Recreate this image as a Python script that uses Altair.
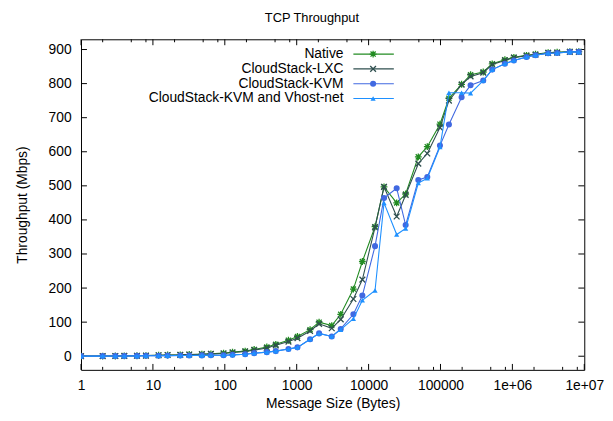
import altair as alt
import pandas as pd

# ---------------- data ----------------
sizes = [1, 2, 3, 4, 6, 8, 12, 16, 24, 32, 48, 64, 96, 128, 192, 256, 384, 512,
         768, 1024, 1536, 2048, 3072, 4096, 6144, 8192, 12288, 16384, 24576, 32768,
         49152, 65536, 98304, 131072, 196608, 262144, 393216, 524288, 786432,
         1048576, 1572864, 2097152, 3145728, 4194304, 6291456, 8388608]

native = [0.3, 0.5, 0.8, 1, 1.5, 2, 3, 3.5, 4, 5, 6, 7, 9, 12, 15, 20, 27, 35,
          47, 58, 78, 100, 90, 123, 197, 278, 380, 497, 450, 476,
          585, 615, 681, 757, 798, 826, 834, 858, 870,
          877, 883, 886, 891, 892, 894, 894]

lxc = [0.3, 0.5, 0.8, 1, 1.5, 2, 3, 3.5, 4, 5, 6, 7, 8, 11, 14, 18, 24, 32,
       43, 53, 74, 95, 82, 108, 168, 225, 378, 497, 410, 473,
       565, 595, 671, 750, 797, 821, 832, 856, 868,
       876, 882, 885, 890, 891, 893, 893]

kvm = [0.2, 0.4, 0.6, 0.8, 1, 1.2, 1.5, 1.8, 2, 2.2, 2.5, 2.8, 3, 4, 6, 9, 12, 15,
       21, 26, 50, 67, 58, 80, 123, 178, 323, 464, 493, 385,
       517, 526, 618, 680, 760, 795, 809, 841, 858,
       868, 878, 883, 889, 890, 893, 893]

vhost = [0.2, 0.4, 0.6, 0.8, 1, 1.2, 1.5, 1.8, 2, 2.2, 2.5, 2.8, 3, 4, 6, 9, 12, 15,
         21, 26, 50, 67, 58, 78, 110, 164, 193, 450, 357, 375,
         508, 522, 614, 773, 773, 772, 809, 841, 858,
         868, 878, 883, 889, 890, 893, 893]

series_names = ["Native", "CloudStack-LXC", "CloudStack-KVM",
                "CloudStack-KVM and Vhost-net"]
series_values = [native, lxc, kvm, vhost]
series_colors = ["#228b22", "#2f4f4f", "#4169e1", "#1e90ff"]

x_major_ticks = [1, 10, 100, 1000, 10000, 100000, 1000000, 10000000]
x_minor_ticks = [2, 5, 8, 20, 50, 80, 200, 500, 800, 2000, 5000, 8000,
                 20000, 50000, 80000, 200000, 500000, 800000,
                 2000000, 5000000, 8000000]
y_major_ticks = [0, 100, 200, 300, 400, 500, 600, 700, 800, 900]

# ---------------- styling ----------------
W, H = 510, 335
FONT = "Liberation Sans"
ASTERISK = "M-1,0L1,0M0,-1L0,1M-0.75,-0.75L0.75,0.75M-0.75,0.75L0.75,-0.75"
XMARK = "M-1,-1L1,1M-1,1L1,-1"
marker_defs = [
    dict(shape=ASTERISK, filled=False, size=48, strokeWidth=1.3),
    dict(shape=XMARK, filled=False, size=34, strokeWidth=1.3),
    dict(shape="circle", filled=True, size=38, strokeWidth=0),
    dict(shape="triangle-up", filled=True, size=28, strokeWidth=0),
]

xscale = alt.Scale(type="log", domain=[1, 10000000], nice=False)
yscale = alt.Scale(domain=[-40, 930], nice=False, zero=False)

xaxis = alt.Axis(values=x_major_ticks, grid=False, ticks=False, domain=False,
                 labelExpr="datum.value >= 1000000 ? '1e+0' + round(log(datum.value)/LN10) : format(datum.value, 'd')",
                 labelPadding=9, titlePadding=4, labelFlush=False)
yaxis = alt.Axis(values=y_major_ticks, grid=False, ticks=False, domain=False,
                 labelPadding=10, titlePadding=19)

X = alt.X("x:Q", scale=xscale, axis=xaxis, title="Message Size (Bytes)")
Y = alt.Y("y:Q", scale=yscale, axis=yaxis, title="Throughput (Mbps)")

layers = []

# tick marks (inward, mirrored)
xt_major = pd.DataFrame({"x": x_major_ticks})
xt_minor = pd.DataFrame({"x": x_minor_ticks})
yt_major = pd.DataFrame({"y": y_major_ticks})
for df_t, L in [(xt_major, 6), (xt_minor, 3)]:
    layers.append(alt.Chart(df_t).mark_rule(color="black", strokeWidth=1).encode(
        x=X, y=alt.value(H), y2=alt.value(H - L)))
    layers.append(alt.Chart(df_t).mark_rule(color="black", strokeWidth=1).encode(
        x=X, y=alt.value(0), y2=alt.value(L)))
layers.append(alt.Chart(yt_major).mark_rule(color="black", strokeWidth=1).encode(
    y=Y, x=alt.value(0), x2=alt.value(6)))
layers.append(alt.Chart(yt_major).mark_rule(color="black", strokeWidth=1).encode(
    y=Y, x=alt.value(W), x2=alt.value(W - 6)))

# data series
for name, vals, col, mk in zip(series_names, series_values, series_colors, marker_defs):
    df = pd.DataFrame({"x": sizes, "y": vals})
    base = alt.Chart(df)
    layers.append(base.mark_line(color=col, strokeWidth=1.1, clip=True).encode(x=X, y=Y))
    layers.append(base.mark_point(color=col, opacity=1, clip=True, **mk).encode(x=X, y=Y))

# legend (gnuplot style: text right-aligned, then line sample with marker)
for i, (name, col, mk) in enumerate(zip(series_names, series_colors, marker_defs)):
    ly = 15 + 15 * i
    ldf = pd.DataFrame({"name": [name]})
    lb = alt.Chart(ldf)
    layers.append(lb.mark_text(align="right", baseline="middle", font=FONT,
                               fontSize=14, color="black").encode(
        text="name:N", x=alt.value(266), y=alt.value(ly)))
    layers.append(lb.mark_rule(color=col, strokeWidth=1.1).encode(
        x=alt.value(276), x2=alt.value(317), y=alt.value(ly)))
    layers.append(lb.mark_point(color=col, opacity=1, **mk).encode(
        x=alt.value(296), y=alt.value(ly)))

chart = alt.layer(*layers).properties(
    width=W, height=H,
    title=alt.TitleParams("TCP Throughput", font=FONT, fontSize=13,
                          fontWeight="normal", color="black", anchor="middle",
                          offset=14, dx=-21),
    autosize=alt.AutoSizeParams(type="none"),
    padding={"left": 74, "top": 29, "right": 21, "bottom": 41},
).configure_view(
    stroke="black", strokeWidth=1
).configure_axis(
    labelFont=FONT, labelFontSize=14, labelColor="black",
    titleFont=FONT, titleFontSize=14, titleFontWeight="normal", titleColor="black"
)

chart.save("out.html", embed_options={"renderer": "svg", "actions": False})
